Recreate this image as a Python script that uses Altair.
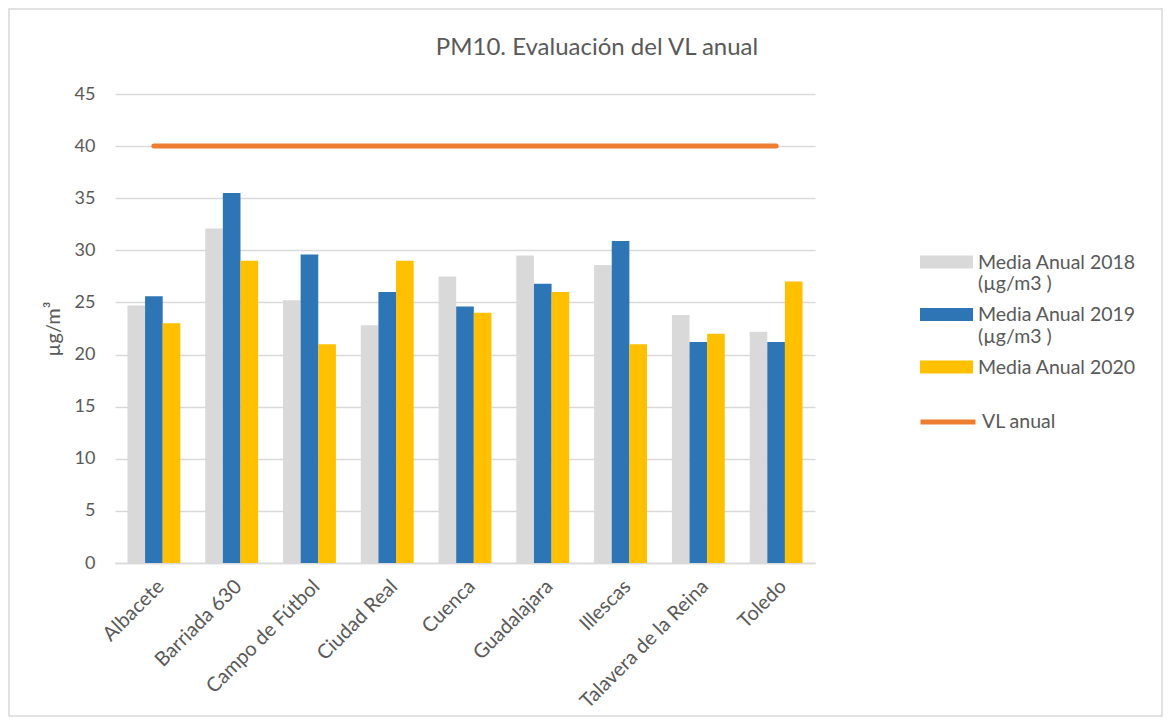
import altair as alt
import pandas as pd

title_text = "PM10. Evaluación del VL anual"
stations = ["Albacete", "Barriada 630", "Campo de Fútbol", "Ciudad Real", "Cuenca",
            "Guadalajara", "Illescas", "Talavera de la Reina", "Toledo"]
media_2018 = [24.7, 32.1, 25.2, 22.8, 27.5, 29.5, 28.6, 23.8, 22.2]
media_2019 = [25.6, 35.5, 29.6, 26.0, 24.6, 26.8, 30.9, 21.2, 21.2]
media_2020 = [23.0, 29.0, 21.0, 29.0, 24.0, 26.0, 21.0, 22.0, 27.0]
vl_anual = [40] * len(stations)
series_names = ["Media Anual 2018 (µg/m3 )", "Media Anual 2019 (µg/m3 )", "Media Anual 2020"]
series_colors = ["#d9d9d9", "#2e75b6", "#ffc000"]
line_name = "VL anual"
line_color = "#ed7d31"

rows = []
for i, s in enumerate(stations):
    for name, vals in zip(series_names, [media_2018, media_2019, media_2020]):
        rows.append({"Estación": s, "Serie": name, "Valor": vals[i]})
bars_df = pd.DataFrame(rows)
line_df = pd.DataFrame({"Estación": stations, "Valor": vl_anual, "Serie": [line_name] * len(stations)})

W, H = 700, 469
FONT = "Lato"
TXT = "#595959"

x_enc = alt.X("Estación:N", sort=stations,
              scale=alt.Scale(paddingInner=0.32, paddingOuter=0.16),
              axis=alt.Axis(title=None, labelAngle=-45, labelFontSize=20, labelColor=TXT,
                            labelFont=FONT, ticks=False, domain=True, domainColor="#d9d9d9",
                            domainWidth=1.5, labelPadding=13, labelLimit=300))
y_enc = alt.Y("Valor:Q", scale=alt.Scale(domain=[0, 45], nice=False),
              axis=alt.Axis(title="µg/m³", values=list(range(0, 50, 5)), labelFontSize=18,
                            labelColor=TXT, labelFont=FONT, ticks=False, domain=False,
                            gridColor="#d9d9d9", gridWidth=1.5, labelPadding=20,
                            titleFont=FONT, titleFontSize=20, titleFontWeight="normal",
                            titleColor=TXT, titlePadding=11))

bars = alt.Chart(bars_df).mark_bar().encode(
    x=x_enc,
    y=y_enc,
    xOffset=alt.XOffset("Serie:N", sort=series_names, scale=alt.Scale(paddingInner=0, paddingOuter=0)),
    color=alt.Color("Serie:N", sort=series_names,
                    scale=alt.Scale(domain=series_names, range=series_colors),
                    legend=alt.Legend(title=None, orient="none", legendX=805, legendY=148,
                                      labelExpr="datum.label == 'Media Anual 2020' ? ['Media Anual 2020', ' '] : split(replace(datum.label, ' (', '|('), '|')",
                                      labelFontSize=19.5, labelFont=FONT, labelColor=TXT,
                                      labelBaseline="alphabetic", labelOffset=5, rowPadding=0.5,
                                      symbolType="M-1,-0.49H1V0H-1Z", symbolSize=2809,
                                      symbolStrokeWidth=0, padding=0,
                                      labelLimit=300)),
)

line = alt.Chart(line_df).mark_line(strokeWidth=5, strokeCap="round").encode(
    x=alt.X("Estación:N", sort=stations),
    y=alt.Y("Valor:Q"),
    stroke=alt.Stroke("Serie:N", scale=alt.Scale(domain=[line_name], range=[line_color]),
                      legend=alt.Legend(title=None, orient="none", legendX=803, legendY=298,
                                        labelFontSize=19.5, labelFont=FONT, labelColor=TXT,
                                        symbolType="stroke", symbolSize=3025, symbolStrokeWidth=5,
                                        labelOffset=4, padding=0)),
)

frame = alt.Chart(alt.Data(values=[{}])).mark_rect(fillOpacity=0, stroke="#d9d9d9", strokeWidth=1.5).encode(
    x=alt.value(-106), x2=alt.value(W + 347), y=alt.value(-85), y2=alt.value(H + 153)
)

title = alt.Chart(alt.Data(values=[{"t": title_text}])).mark_text(
    font=FONT, fontSize=24, color=TXT, align="center", baseline="alphabetic"
).encode(text="t:N", x=alt.value(W / 2 + 132), y=alt.value(-39))

chart = alt.layer(frame, bars, line, title).properties(
    width=W, height=H,
    autosize=alt.AutoSizeParams(type="none"),
    padding={"left": 107, "top": 86, "right": 348, "bottom": 155},
).configure_view(stroke=None)

chart.save("out.html", embed_options={"renderer": "svg", "actions": False})
